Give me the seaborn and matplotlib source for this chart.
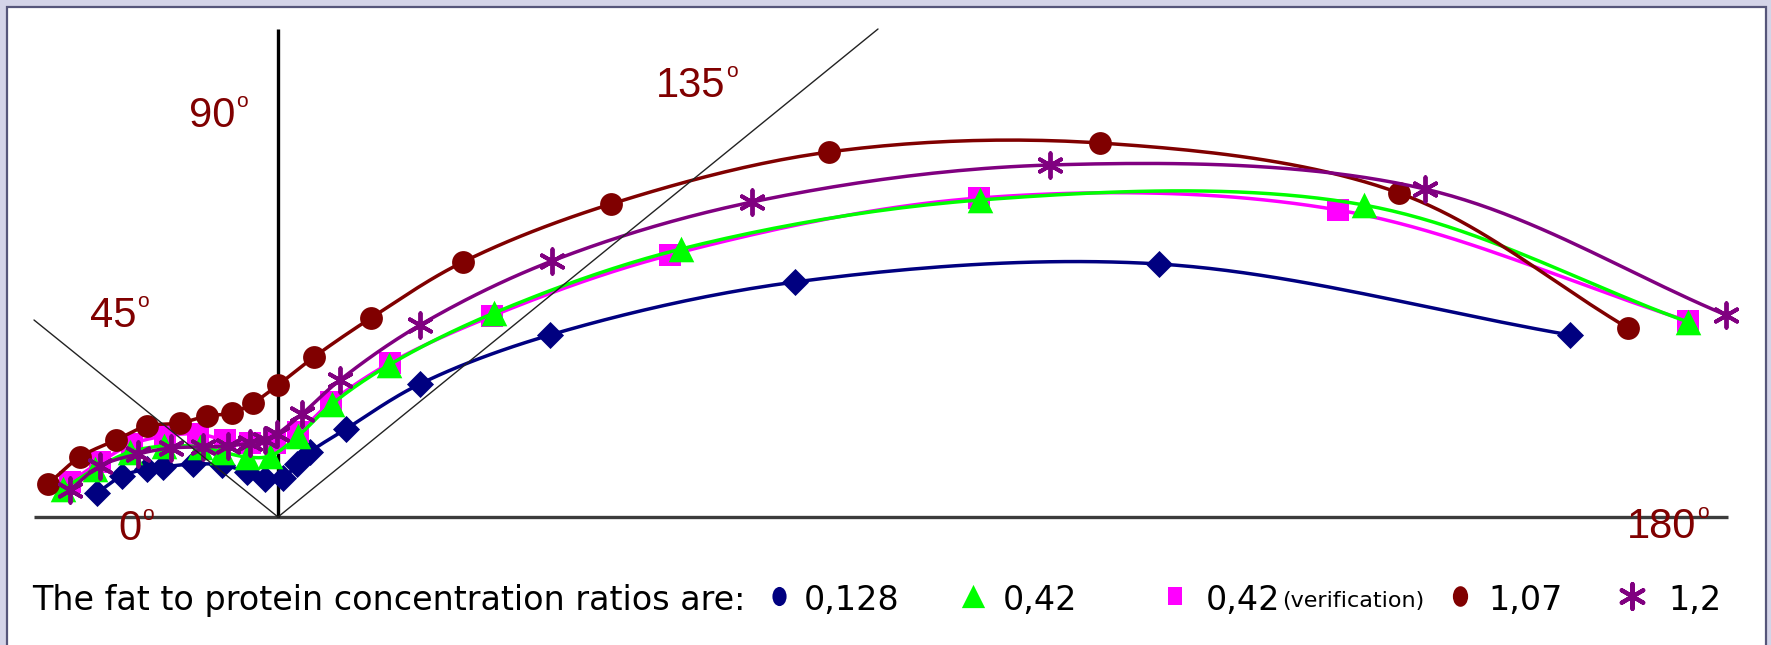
import numpy as np
import matplotlib
matplotlib.use("Agg")
import matplotlib.pyplot as plt
import seaborn as sns
from matplotlib.path import Path
from matplotlib.transforms import Affine2D
from matplotlib.patches import Rectangle

# ---------------------------------------------------------------------------
# Data: horizontal position and height of each measured point, measured from
# the foot of the 90 degree line (same unit on both axes).
# ---------------------------------------------------------------------------
ratio_labels = ["0,128", "0,42", "0,42", "1,07", "1,2"]

r0128_x = [-181, -156, -131, -115, -85, -56, -31, -13, 5, 19, 32, 68, 142, 272, 517, 881, 1292]
r0128_y = [24, 41, 48, 50, 53, 52, 45, 38, 39, 53, 65, 88, 133, 182, 235, 253, 182]

r042_x = [-215, -183, -148, -114, -78, -56, -31, -8, 20, 54, 111, 216, 403, 702, 1086, 1410]
r042_y = [28, 48, 65, 71, 70, 65, 60, 61, 81, 113, 152, 204, 268, 317, 312, 195]

r042v_x = [-208, -178, -146, -113, -80, -53, -28, -3, 20, 53, 112, 214, 392, 701, 1060, 1410]
r042v_y = [35, 55, 73, 81, 83, 77, 74, 74, 85, 115, 154, 201, 262, 319, 307, 196]

r107_x = [-230, -198, -162, -131, -98, -71, -46, -25, 0, 36, 93, 185, 333, 551, 822, 1121, 1350]
r107_y = [33, 60, 77, 91, 94, 101, 104, 114, 132, 160, 199, 255, 313, 365, 374, 324, 189]

r12_x = [-208, -178, -140, -107, -75, -50, -28, -13, -1, 24, 62, 142, 274, 474, 772, 1147, 1448]
r12_y = [27, 51, 63, 69, 70, 71, 74, 77, 83, 103, 137, 192, 256, 315, 352, 328, 202]

# angle guide lines (start and end points) and their labels
guide_vertical = ([0, 0], [0, 488])
guide_45 = ([-244, 0], [197, 0])
guide_135 = ([0, 600], [0, 488])
guide_base = ([-244, 1450], [0, 0])
angle_labels = ["0", "45", "90", "135", "180"]
angle_label_pos = [(-160, -23), (-188, 190), (-89, 390), (378, 420), (1349, -21)]

# ---------------------------------------------------------------------------
W, H = 1771, 645
OX, OY = 278, 517          # pixel position of the origin

sns.set_theme(style="white")
plt.rcParams["font.family"] = ["DejaVu Sans"]

fig = plt.figure(figsize=(W / 100, H / 100), dpi=100, facecolor="#D4D4E8")

# white panel with a dark rim on the left, top and right
bg = fig.add_axes([0, 0, 1, 1], zorder=-5)
bg.set_xlim(0, W)
bg.set_ylim(H, 0)
bg.axis("off")
bg.add_patch(Rectangle((7, 7), 1766 - 7, H + 20, facecolor="white",
                       edgecolor="#56567a", linewidth=1.6))

ax = fig.add_axes([0, 0, 1, 1])
ax.set_xlim(-OX, W - OX)
ax.set_ylim(OY - H, OY)
ax.axis("off")
ax.patch.set_visible(False)


def smooth(xs, ys, samples=24, alpha=0.5):
    """Centripetal Catmull-Rom path through the given points."""
    P = np.column_stack([xs, ys]).astype(float)
    P = np.vstack([2 * P[0] - P[1], P, 2 * P[-1] - P[-2]])
    out = []
    for i in range(1, len(P) - 2):
        p0, p1, p2, p3 = P[i - 1], P[i], P[i + 1], P[i + 2]
        t0 = 0.0
        t1 = t0 + max(np.linalg.norm(p1 - p0), 1e-6) ** alpha
        t2 = t1 + max(np.linalg.norm(p2 - p1), 1e-6) ** alpha
        t3 = t2 + max(np.linalg.norm(p3 - p2), 1e-6) ** alpha
        t = np.linspace(t1, t2, samples, endpoint=False)[:, None]
        A1 = (t1 - t) / (t1 - t0) * p0 + (t - t0) / (t1 - t0) * p1
        A2 = (t2 - t) / (t2 - t1) * p1 + (t - t1) / (t2 - t1) * p2
        A3 = (t3 - t) / (t3 - t2) * p2 + (t - t2) / (t3 - t2) * p3
        B1 = (t2 - t) / (t2 - t0) * A1 + (t - t0) / (t2 - t0) * A2
        B2 = (t3 - t) / (t3 - t1) * A2 + (t - t1) / (t3 - t1) * A3
        out.append((t2 - t) / (t2 - t1) * B1 + (t - t1) / (t2 - t1) * B2)
    out.append(P[-2][None])
    C = np.vstack(out)
    return C[:, 0], C[:, 1]


# guide lines
ax.plot(*guide_base, color="#3c3c3c", lw=2.4, zorder=1, solid_capstyle="butt")
ax.plot(*guide_vertical, color="black", lw=2.4, zorder=1, solid_capstyle="butt")
ax.plot(*guide_45, color="#222222", lw=1.0, zorder=8)
ax.plot(*guide_135, color="#222222", lw=1.0, zorder=8)

star = (6, 2, 0)
series = [
    (r0128_x, r0128_y, "#000080", "D", 190, 2),
    (r042v_x, r042v_y, "#FF00FF", "s", 230, 3),
    (r042_x, r042_y, "#00FF00", "^", 340, 4),
    (r107_x, r107_y, "#800000", "o", 270, 5),
    (r12_x, r12_y, "#800080", star, 310, 6),
]
for xs, ys, col, mk, size, z in series:
    sx, sy = smooth(xs, ys)
    sns.lineplot(x=sx, y=sy, sort=False, estimator=None, color=col,
                 linewidth=2.5, legend=False, ax=ax, zorder=z)
    if mk == star:
        sns.scatterplot(x=xs, y=ys, marker=mk, s=size, color=col,
                        edgecolor=col, linewidth=2.8, legend=False, ax=ax, zorder=z)
    else:
        sns.scatterplot(x=xs, y=ys, marker=mk, s=size, color=col,
                        linewidth=0, legend=False, ax=ax, zorder=z)

# angle labels with raised degree mark
for lab, (lx, ly) in zip(angle_labels, angle_label_pos):
    t = ax.text(lx, ly, lab, color="#800000", fontsize=30,
                family="Liberation Sans", ha="left", va="baseline", zorder=9)
    fig.canvas.draw()
    bb = t.get_window_extent()
    x1 = ax.transData.inverted().transform((bb.x1, 0))[0]
    ax.text(x1 + 1, ly + 20, "o", color="#800000", fontsize=15,
            family="Liberation Sans", ha="left", va="baseline", zorder=9)

# legend row (pixel coordinates)
lg = fig.add_axes([0, 0, 1, 1])
lg.set_xlim(0, W)
lg.set_ylim(H, 0)
lg.axis("off")
lg.patch.set_visible(False)

ellipse = Path.unit_circle().transformed(Affine2D().scale(0.74, 1.0))
bar = Path([(-0.75, -1), (0.75, -1), (0.75, 1), (-0.75, 1), (-0.75, -1)],
           [Path.MOVETO, Path.LINETO, Path.LINETO, Path.LINETO, Path.CLOSEPOLY])

lg.text(32, 610, "The fat to protein concentration ratios are:", fontsize=24,
        color="black", ha="left", va="baseline")
legend_items = [
    (779, "#000080", ellipse, 190, 804, ratio_labels[0], None),
    (973, "#00FF00", "^", 280, 1003, ratio_labels[1], None),
    (1175, "#FF00FF", bar, 180, 1206, ratio_labels[2], "(verification)"),
    (1460, "#800000", ellipse, 220, 1488, ratio_labels[3], None),
    (1632, "#800080", star, 320, 1668, ratio_labels[4], None),
]
for mx, col, mk, size, tx, lab, extra in legend_items:
    if mk == star:
        sns.scatterplot(x=[mx], y=[596], marker=mk, s=size, color=col,
                        edgecolor=col, linewidth=3, legend=False, ax=lg)
    else:
        sns.scatterplot(x=[mx], y=[596], marker=mk, s=size, color=col,
                        linewidth=0, legend=False, ax=lg)
    lg.text(tx, 610, lab, fontsize=24, color="black", ha="left", va="baseline")
    if extra:
        lg.text(1282, 607, extra, fontsize=16, color="black",
                ha="left", va="baseline")

lg.set_xlim(0, W)
lg.set_ylim(H, 0)
fig.savefig("out.png", dpi=100, facecolor=fig.get_facecolor())
